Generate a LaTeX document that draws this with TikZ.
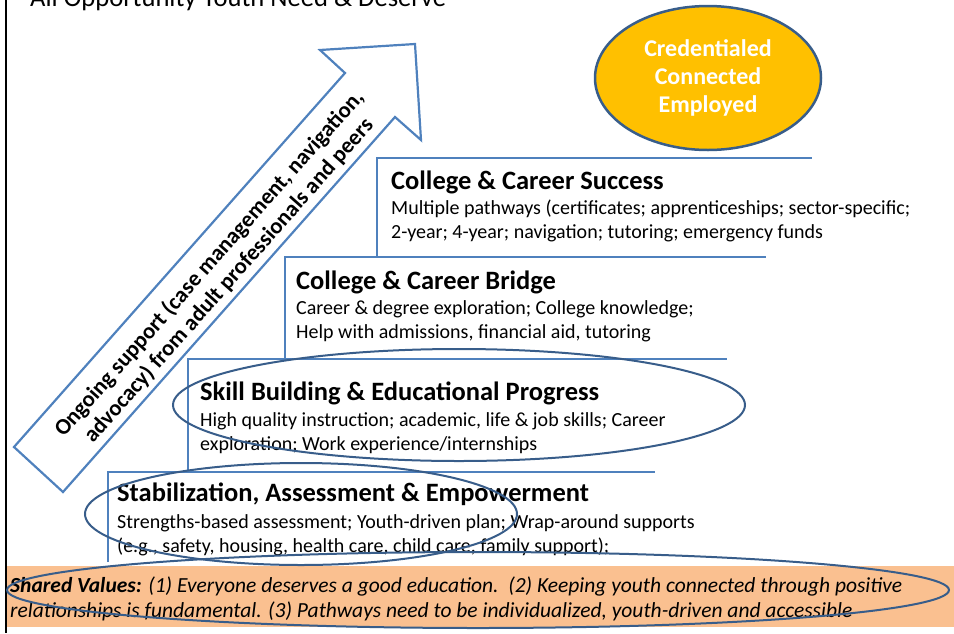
\documentclass[tikz,border=0pt]{standalone}
\usepackage{fontspec}
\setmainfont{Carlito}
\usetikzlibrary{shapes.geometric}
\definecolor{stepblue}{HTML}{4F81BD}
\definecolor{ringblue}{HTML}{385D8A}
\definecolor{goldfill}{HTML}{FFC000}
\definecolor{valuesorange}{HTML}{FAC090}
\tikzset{
  stepline/.style={draw=stepblue,line width=2.2pt},
  steptitle/.style={anchor=west,inner sep=0pt,font=\fontsize{26.5}{30}\selectfont\bfseries},
  stepbody/.style={anchor=west,inner sep=0pt,align=left,font=\fontsize{20}{24}\selectfont},
  ring/.style={draw=ringblue,line width=2pt},
}
\begin{document}
\begin{tikzpicture}[x=1pt,y=-1pt]
\useasboundingbox (0,0) rectangle (954,633);
\clip (0,0) rectangle (954,633);
% heading, cut at the top edge
\node[anchor=base west,inner sep=0pt,font=\fontsize{26.6}{32}\selectfont] (heading) at (30,6) {All Opportunity Youth Need \& Deserve};
\draw[line width=2.5pt] (6,0) -- (6,633);
% shared values bar
\fill[valuesorange] (7,566) rectangle (954,627);
\node[anchor=west,inner sep=0pt,align=left,font=\fontsize{21.5}{25}\selectfont\itshape] (values) at (10,599)
  {\textbf{Shared Values:} (1) Everyone deserves a good education.\ \ (2) Keeping youth connected through positive\\
   relationships is fundamental. (3) Pathways need to be individualized, youth-driven and accessible};
% support arrow
\draw[stepline,line join=miter] (14,447) -- (345,73) -- (320,50) -- (415,44) -- (421,140) -- (395,117) -- (63,492) -- cycle;
\node[rotate=48.5,align=center,font=\fontsize{22.6}{26}\selectfont\bfseries] (support) at (219,272)
  {Ongoing support (case management, navigation,\\ advocacy) from adult professionals and peers};
% goal
\node[ellipse,draw=ringblue,line width=2.5pt,fill=goldfill,minimum width=226pt,minimum height=144pt,inner sep=0pt,
  align=center,text=white,font=\fontsize{24}{28}\selectfont\bfseries] (goal) at (708,78)
  {Credentialed\\Connected\\Employed};
% steps
\draw[stepline] (377,257) -- (377,158) -- (812,158);
\node[steptitle] (success) at (391,182) {College \& Career Success};
\node[stepbody] (successtext) at (391,221) {Multiple pathways (certificates; apprenticeships; sector-specific;\\2-year; 4-year; navigation; tutoring; emergency funds};
\draw[stepline] (285,359) -- (285,257) -- (766,257);
\node[steptitle] (bridge) at (296,282) {College \& Career Bridge};
\node[stepbody] (bridgetext) at (296,321) {Career \& degree exploration; College knowledge;\\Help with admissions, financial aid, tutoring};
\draw[stepline] (188,472) -- (188,359) -- (727,359);
\node[steptitle] (skills) at (200,393) {Skill Building \& Educational Progress};
\node[stepbody] (skillstext) at (200,433) {High quality instruction; academic, life \& job skills; Career\\exploration; Work experience/internships};
\draw[stepline] (108,562) -- (108,472) -- (655,472);
\node[steptitle] (stabilize) at (117,494) {Stabilization, Assessment \& Empowerment};
\node[stepbody] (stabilizetext) at (117,535) {Strengths-based assessment; Youth-driven plan; Wrap-around supports\\(e.g., safety, housing, health care, child care, family support);};
% highlight rings
\draw[ring] (459,405) ellipse (286 and 56);
\draw[ring] (301,514) ellipse (216 and 51);
\draw[ring] (478,590) ellipse (471 and 38);
\end{tikzpicture}
\end{document}
